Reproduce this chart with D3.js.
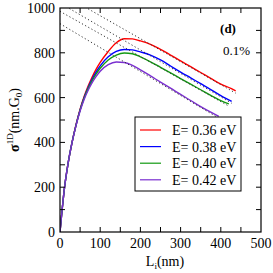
<!DOCTYPE html>
<html>
<head>
<meta charset="utf-8">
<script src="https://cdn.jsdelivr.net/npm/d3@7"></script>
<style>
  html, body { margin: 0; padding: 0; background: #fff; }
  svg { display: block; }
  text { font-family: "Times New Roman", Times, "Liberation Serif", Tinos, "Noto Serif", "DejaVu Serif", serif; }
  .frame { fill: none; stroke: #000; stroke-width: 1.2; }
  .tick-mark { stroke: #000; stroke-width: 1; }
  .tick-label { font-size: 14px; fill: #000; }
  .curve { fill: none; stroke-width: 1.4; }
  .fit { fill: none; stroke: #333; stroke-width: 1; stroke-dasharray: 1.2 2.4; }
  .legend-box { fill: #fff; stroke: #000; stroke-width: 1; }
  .legend-label { font-size: 14px; fill: #000; }
</style>
</head>
<body>
<div id="chart"></div>
<script>
// lengths (nm) and conductivity values
const lengths = [0, 5, 10, 20, 30, 40, 50, 60, 70, 80, 90, 100, 120, 140, 160, 180, 200, 225, 250, 275, 300, 325, 350, 375, 400];

const redL = lengths.concat([425, 437]);
const redS = [0, 95, 180, 305, 400, 480, 548, 605, 652, 692, 727, 757, 806, 845, 863, 862, 853, 838, 815, 790, 764, 738, 712, 686, 660, 641, 630];

const blueL = lengths.concat([427]);
const blueS = [0, 95, 180, 305, 400, 478, 545, 600, 645, 683, 715, 742, 782, 806, 815, 813, 804, 790, 768, 741, 714, 688, 662, 636, 609, 583];

const greenL = lengths.concat([420]);
const greenS = [0, 95, 180, 305, 400, 478, 544, 597, 640, 676, 706, 731, 768, 790, 799, 796, 782, 760, 735, 710, 685, 660, 635, 610, 586, 572];

const purpleL = lengths.slice(0, 24).concat([395]);
const purpleS = [0, 95, 180, 305, 400, 476, 540, 592, 633, 667, 695, 718, 747, 759, 757, 744, 724, 697, 669, 642, 614, 587, 560, 535, 516];

// dotted straight lines, end points [L, sigma]
const fitRed = [[0, 1068], [437, 620]];
const fitBlue = [[0, 1022], [427, 575]];
const fitGreen = [[0, 985], [420, 562]];
const fitPurple = [[0, 930], [395, 508]];

const energies = ["E= 0.36 eV", "E= 0.38 eV", "E= 0.40 eV", "E= 0.42 eV"];
const colors = ["#ff0000", "#0000ff", "#129a12", "#7a2fd0"];

const xTicks = [0, 100, 200, 300, 400, 500];
const xMinor = [50, 150, 250, 350, 450];
const yTicks = [0, 200, 400, 600, 800, 1000];
const yMinor = [100, 300, 500, 700, 900];

const series = [
  { L: redL, s: redS, fit: fitRed },
  { L: blueL, s: blueS, fit: fitBlue },
  { L: greenL, s: greenS, fit: fitGreen },
  { L: purpleL, s: purpleS, fit: fitPurple },
].map((d, i) => ({
  label: energies[i],
  color: colors[i],
  points: d.L.map((l, j) => [l, d.s[j]]),
  fit: d.fit,
}));

const width = 273;
const height = 273;
const margin = { top: 8, right: 12, bottom: 41, left: 60 };

const x = d3.scaleLinear().domain([0, 500]).range([margin.left, width - margin.right]);
const y = d3.scaleLinear().domain([0, 1000]).range([height - margin.bottom, margin.top]);

const svg = d3.select("#chart")
  .append("svg")
  .attr("width", width)
  .attr("height", height);

svg.append("clipPath")
  .attr("id", "plot-clip")
  .append("rect")
  .attr("x", x(0))
  .attr("y", y(1000))
  .attr("width", x(500) - x(0))
  .attr("height", y(0) - y(1000));

const line = d3.line()
  .x((d) => x(d[0]))
  .y((d) => y(d[1]))
  .curve(d3.curveMonotoneX);

const plot = svg.append("g").attr("clip-path", "url(#plot-clip)");

plot.selectAll(".curve")
  .data(series)
  .join("path")
  .attr("class", "curve")
  .attr("stroke", (d) => d.color)
  .attr("d", (d) => line(d.points));

plot.selectAll(".fit")
  .data(series)
  .join("path")
  .attr("class", "fit")
  .attr("d", (d) => d3.line().x((p) => x(p[0])).y((p) => y(p[1]))(d.fit));

// ticks on all four sides, pointing inward
const tickLen = 5;
const ticks = svg.append("g");
const xAll = xTicks.concat(xMinor).filter((t) => t > 0 && t < 500);
const yAll = yTicks.concat(yMinor).filter((t) => t > 0 && t < 1000);

ticks.selectAll(".xb")
  .data(xAll)
  .join("line")
  .attr("class", "tick-mark")
  .attr("x1", (d) => x(d)).attr("x2", (d) => x(d))
  .attr("y1", y(0)).attr("y2", y(0) - tickLen);
ticks.selectAll(".xt")
  .data(xAll)
  .join("line")
  .attr("class", "tick-mark")
  .attr("x1", (d) => x(d)).attr("x2", (d) => x(d))
  .attr("y1", y(1000)).attr("y2", y(1000) + tickLen);
ticks.selectAll(".yl")
  .data(yAll)
  .join("line")
  .attr("class", "tick-mark")
  .attr("y1", (d) => y(d)).attr("y2", (d) => y(d))
  .attr("x1", x(0)).attr("x2", x(0) + tickLen);
ticks.selectAll(".yr")
  .data(yAll)
  .join("line")
  .attr("class", "tick-mark")
  .attr("y1", (d) => y(d)).attr("y2", (d) => y(d))
  .attr("x1", x(500)).attr("x2", x(500) - tickLen);

svg.append("rect")
  .attr("class", "frame")
  .attr("x", x(0))
  .attr("y", y(1000))
  .attr("width", x(500) - x(0))
  .attr("height", y(0) - y(1000));

svg.selectAll(".x-label")
  .data(xTicks)
  .join("text")
  .attr("class", "tick-label")
  .attr("x", (d) => x(d))
  .attr("y", y(0) + 16)
  .attr("text-anchor", "middle")
  .text((d) => d);

svg.selectAll(".y-label")
  .data(yTicks)
  .join("text")
  .attr("class", "tick-label")
  .attr("x", x(0) - 5)
  .attr("y", (d) => y(d) + 5)
  .attr("text-anchor", "end")
  .text((d) => d);

// axis titles
const xTitle = svg.append("text")
  .attr("x", 165)
  .attr("y", 266)
  .attr("text-anchor", "middle")
  .attr("font-size", 14);
xTitle.append("tspan").text("L");
xTitle.append("tspan").attr("font-size", 9).attr("dy", 3).text("i");
xTitle.append("tspan").attr("dy", -3).text("(nm)");

const yTitle = svg.append("text")
  .attr("transform", `translate(19,${(y(0) + y(1000)) / 2}) rotate(-90)`)
  .attr("text-anchor", "middle")
  .attr("font-size", 14);
yTitle.append("tspan").attr("font-weight", "bold").text("σ");
yTitle.append("tspan").attr("font-size", 9).attr("dy", -6).text("1D");
yTitle.append("tspan").attr("dy", 6).text("(nm.G");
yTitle.append("tspan").attr("font-size", 9).attr("dy", 3).text("0");
yTitle.append("tspan").attr("dy", -3).text(")");

svg.append("text")
  .attr("x", 228)
  .attr("y", 33)
  .attr("text-anchor", "middle")
  .attr("font-size", 13)
  .attr("font-weight", "bold")
  .text("(d)");

svg.append("text")
  .attr("x", 250)
  .attr("y", 55)
  .attr("text-anchor", "end")
  .attr("font-size", 13)
  .text("0.1%");

// legend
const legend = svg.append("g").attr("transform", "translate(135,117)");
legend.append("rect")
  .attr("class", "legend-box")
  .attr("width", 106)
  .attr("height", 74);
const item = legend.selectAll(".item")
  .data(series)
  .join("g")
  .attr("transform", (d, i) => `translate(0,${13 + i * 16.6})`);
item.append("line")
  .attr("x1", 5).attr("x2", 26)
  .attr("stroke", (d) => d.color)
  .attr("stroke-width", 1.2);
item.append("text")
  .attr("class", "legend-label")
  .attr("x", 37)
  .attr("y", 5)
  .text((d) => d.label);
</script>
</body>
</html>
